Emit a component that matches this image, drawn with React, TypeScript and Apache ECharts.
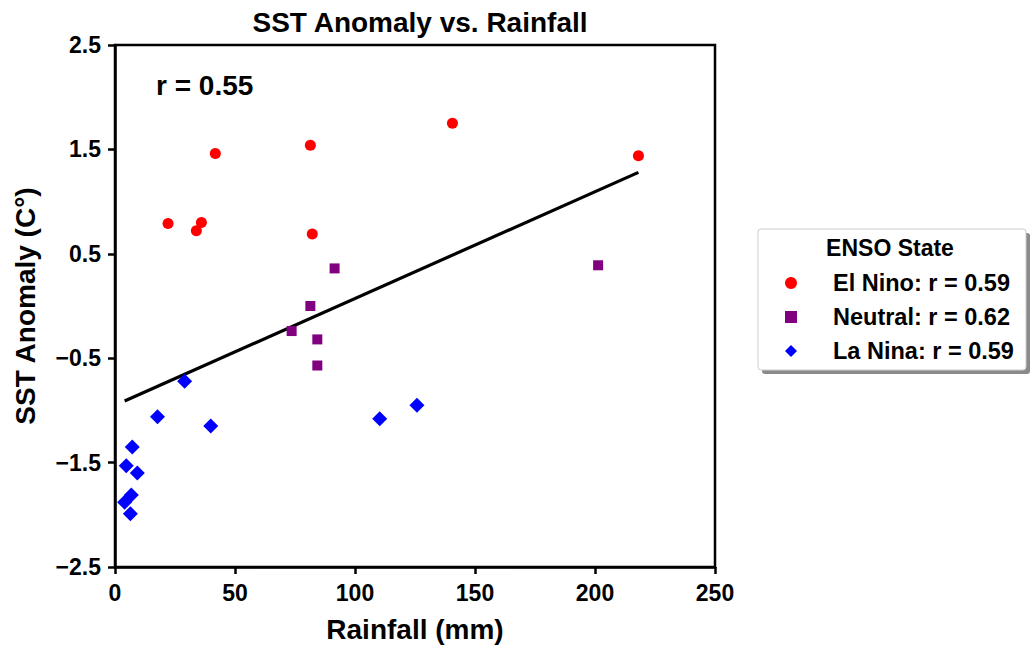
import React, { useEffect, useRef } from "react";
import * as echarts from "echarts";

const FONT = "'Liberation Sans', Arial, Helvetica, sans-serif";

const elNinoRain = [22.1, 36.0, 33.9, 41.8, 81.4, 82.2, 140.6, 218.1];
const elNinoSST = [0.79, 0.80, 0.72, 1.46, 1.54, 0.69, 1.75, 1.44];

const neutralRain = [91.5, 81.4, 73.6, 84.3, 84.3, 201.3];
const neutralSST = [0.36, 0.0, -0.24, -0.32, -0.57, 0.39];

const laNinaRain = [29.0, 17.7, 39.9, 7.2, 4.7, 9.3, 6.8, 4.0, 6.4, 110.3, 125.8];
const laNinaSST = [-0.72, -1.06, -1.15, -1.35, -1.53, -1.60, -1.81, -1.88, -1.99, -1.08, -0.95];

const trendRain = [4.0, 218.1];
const trendSST = [-0.91, 1.28];

const legendNames = ["El Nino: r = 0.59", "Neutral: r = 0.62", "La Nina: r = 0.59"];
const overallR = "r = 0.55";

const zip = (a: number[], b: number[]) => a.map((v, i) => [v, b[i]]);

export default function App() {
  const ref = useRef<HTMLDivElement>(null);
  useEffect(() => {
    if (!ref.current) return;
    const chart = echarts.init(ref.current, null, { renderer: "svg" });
    const fmtMinus = (v: number) => v.toFixed(1).replace("-", "\u2212");
    chart.setOption({
      animation: false,
      backgroundColor: "#ffffff",
      title: {
        text: "SST Anomaly vs. Rainfall",
        left: 415,
        top: 3,
        textAlign: "center",
        textStyle: { fontFamily: FONT, fontWeight: "bold", fontSize: 28, color: "#000" },
      },
      grid: {
        left: 115,
        right: 317,
        top: 45,
        bottom: 82,
        show: true,
        borderColor: "#000",
        borderWidth: 2.5,
        backgroundColor: "transparent",
      },
      xAxis: {
        type: "value",
        min: 0,
        max: 250,
        interval: 50,
        name: "Rainfall (mm)",
        nameLocation: "middle",
        nameGap: 48,
        nameTextStyle: { fontFamily: FONT, fontWeight: "bold", fontSize: 28, color: "#000" },
        axisLine: { show: true, onZero: false, lineStyle: { color: "#000", width: 2.5 } },
        axisTick: { show: true, inside: false, length: 7, lineStyle: { color: "#000", width: 2.5 } },
        axisLabel: { margin: 14, fontFamily: FONT, fontWeight: "bold", fontSize: 23, color: "#000" },
        splitLine: { show: false },
      },
      yAxis: {
        type: "value",
        min: -2.5,
        max: 2.5,
        interval: 1,
        name: "SST Anomaly (C°)",
        nameLocation: "middle",
        nameRotate: 90,
        nameGap: 76,
        nameTextStyle: { fontFamily: FONT, fontWeight: "bold", fontSize: 28, color: "#000" },
        axisLine: { show: true, onZero: false, lineStyle: { color: "#000", width: 2.5 } },
        axisTick: { show: true, inside: false, length: 7, lineStyle: { color: "#000", width: 2.5 } },
        axisLabel: {
          margin: 14,
          fontFamily: FONT,
          fontWeight: "bold",
          fontSize: 23,
          color: "#000",
          formatter: fmtMinus,
        },
        splitLine: { show: false },
      },
      legend: {
        orient: "vertical",
        left: 785,
        top: 271,
        padding: 0,
        itemWidth: 12,
        itemHeight: 12,
        itemGap: 10,
        selectedMode: false,
        data: [
          { name: legendNames[0], icon: "circle" },
          { name: legendNames[1], icon: "rect" },
          { name: legendNames[2], icon: "diamond" },
        ],
        textStyle: {
          fontFamily: FONT,
          fontWeight: "bold",
          fontSize: 23.5,
          lineHeight: 23,
          color: "#000",
          padding: [0, 0, 0, 31],
        },
      },
      graphic: [
        {
          type: "rect",
          z: -1,
          shape: { x: 762, y: 233, width: 268, height: 141, r: 3 },
          style: { fill: "#8a8a8a" },
          silent: true,
        },
        {
          type: "rect",
          z: -1,
          shape: { x: 758, y: 229, width: 268, height: 141, r: 3 },
          style: { fill: "#ffffff", stroke: "#cccccc", lineWidth: 1 },
          silent: true,
        },
        {
          type: "text",
          z: 10,
          x: 890,
          y: 248,
          style: {
            text: "ENSO State",
            fontFamily: FONT,
            fontWeight: "bold",
            fontSize: 23,
            fill: "#000",
            textAlign: "center",
            textVerticalAlign: "middle",
          },
        },
        {
          type: "text",
          z: 10,
          x: 156,
          y: 85,
          style: {
            text: overallR,
            fontFamily: FONT,
            fontWeight: "bold",
            fontSize: 28,
            fill: "#000",
            textAlign: "left",
            textVerticalAlign: "middle",
          },
        },
      ],
      series: [
        {
          name: "trend",
          type: "line",
          data: zip(trendRain, trendSST),
          showSymbol: false,
          symbol: "none",
          lineStyle: { color: "#000", width: 3.2 },
          z: 1,
          silent: true,
        },
        {
          name: legendNames[0],
          type: "scatter",
          symbol: "circle",
          symbolSize: 11,
          itemStyle: { color: "#ff0000", opacity: 1 },
          data: zip(elNinoRain, elNinoSST),
          z: 3,
        },
        {
          name: legendNames[1],
          type: "scatter",
          symbol: "rect",
          symbolSize: 10,
          itemStyle: { color: "#800080", opacity: 1 },
          data: zip(neutralRain, neutralSST),
          z: 3,
        },
        {
          name: legendNames[2],
          type: "scatter",
          symbol: "diamond",
          symbolSize: 15,
          itemStyle: { color: "#0000ff", opacity: 1 },
          data: zip(laNinaRain, laNinaSST),
          z: 3,
        },
      ],
    });
    return () => chart.dispose();
  }, []);
  return (
    <div
      ref={ref}
      style={{ position: "absolute", left: 0, top: 0, width: 1032, height: 649 }}
    />
  );
}
